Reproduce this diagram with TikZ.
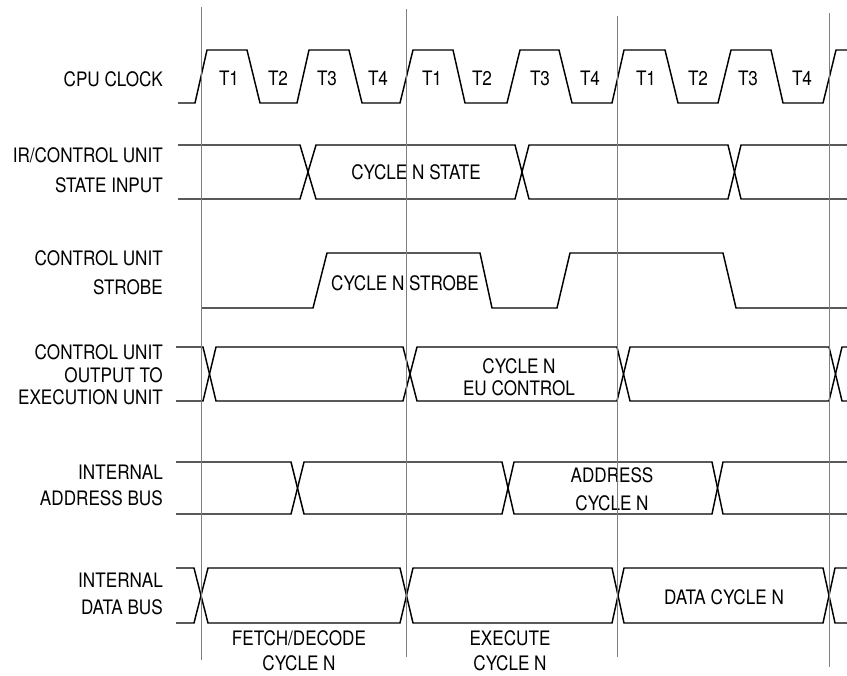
\documentclass[tikz,border=0pt]{standalone}
\usepackage{fontspec}
\setmainfont{TeX Gyre Heros}[FakeStretch=0.86]
\begin{document}
\begin{tikzpicture}[x=0.03cm,y=-0.03cm,
  wave/.style={line width=1.25pt,line join=miter},
  cyclemark/.style={line width=0.6pt,color=black!50},
  lbl/.style={font=\fontsize{17}{#1}\selectfont,inner sep=0pt},
  lbl/.default=21pt]
\useasboundingbox (0,0) rectangle (847,675);
{%

% Marking signal names
\node [lbl,anchor=east] (nclk) at (163,79) {CPU CLOCK};%
\node [lbl=25.6pt,anchor=east,align=right] (nstate) at (163,170) {IR/CONTROL UNIT\\STATE INPUT};%
\node [lbl=24.8pt,anchor=east,align=right] (nstrobe) at (163,272.5) {CONTROL UNIT\\STROBE};%
\node [lbl=19.2pt,anchor=east,align=right] (neu) at (163,375) {CONTROL UNIT\\OUTPUT TO\ \\EXECUTION UNIT};%
\node [lbl=22.2pt,anchor=east,align=right] (nabus) at (163,485) {INTERNAL\\ADDRESS BUS};%
\node [lbl=23pt,anchor=east,align=right] (ndbus) at (163,593.5) {INTERNAL\\DATA BUS};%

% Drawing CPU clock
\draw [wave] (178,103) -- (195,103) -- (207,50) -- (247,50) -- (260,103) -- (297,103) -- (309,50) -- (349,50) -- (362,103) -- (400,103) -- (413,50) -- (453,50) -- (465,103) -- (507,103) -- (520,50) -- (559,50) -- (572,103) -- (612,103) -- (624,50) -- (665,50) -- (678,103) -- (718,103) -- (731,50) -- (771,50) -- (783,103) -- (823,103) -- (836,50) -- (847,50);%

% Marking clock states
\node [lbl] (ta1) at (229,78) {T1};%
\node [lbl] (ta2) at (278,78) {T2};%
\node [lbl] (ta3) at (327,78) {T3};%
\node [lbl] (ta4) at (378,78) {T4};%
\node [lbl] (tb1) at (432,78) {T1};%
\node [lbl] (tb2) at (482,78) {T2};%
\node [lbl] (tb3) at (540,78) {T3};%
\node [lbl] (tb4) at (590,78) {T4};%
\node [lbl] (tc1) at (646,78) {T1};%
\node [lbl] (tc2) at (698,78) {T2};%
\node [lbl] (tc3) at (748,78) {T3};%
\node [lbl] (tc4) at (802,78) {T4};%

% Drawing IR/control unit state input
\draw [wave] (178,145) -- (300,145) -- (316,199) -- (515,199) -- (529,145) -- (728,145) -- (741,199) -- (847,199);%
\draw [wave] (178,199) -- (300,199) -- (316,145) -- (515,145) -- (529,199) -- (728,199) -- (741,145) -- (847,145);%
\node [lbl] (cstate) at (416,172) {CYCLE N STATE};%

% Drawing control unit strobe
\draw [wave] (201,308) -- (313,308) -- (327,253) -- (480,253) -- (492,308) -- (557,308) -- (570,253) -- (723,253) -- (736,308) -- (847,308);%
\node [lbl] (cstrobe) at (405,283) {CYCLE N STROBE};%

% Drawing control unit output to execution unit
\draw [wave] (176,347) -- (203,347) -- (216,401) -- (403,401) -- (417,347) -- (617,347) -- (630,401) -- (829,401) -- (842,347) -- (847,347);%
\draw [wave] (176,401) -- (203,401) -- (216,347) -- (403,347) -- (417,401) -- (617,401) -- (630,347) -- (829,347) -- (842,401) -- (847,401);%
\node [lbl=18.8pt,align=center] (ceu) at (519,377) {CYCLE N\\EU CONTROL};%

% Drawing internal address bus
\draw [wave] (176,462) -- (291,462) -- (304,514) -- (502,514) -- (514,462) -- (712,462) -- (723,514) -- (847,514);%
\draw [wave] (176,514) -- (291,514) -- (304,462) -- (502,462) -- (514,514) -- (712,514) -- (723,462) -- (847,462);%
\node [lbl=23.9pt,align=center] (caddr) at (612,489) {ADDRESS\\CYCLE N};%

% Drawing internal data bus
\draw [wave] (176,568) -- (194,568) -- (208,623) -- (400,623) -- (413,568) -- (612,568) -- (624,623) -- (823,623) -- (835,568) -- (847,568);%
\draw [wave] (176,623) -- (194,623) -- (208,568) -- (400,568) -- (413,623) -- (612,623) -- (624,568) -- (823,568) -- (835,623) -- (847,623);%
\node [lbl] (cdata) at (724,597) {DATA CYCLE N};%

% Marking machine cycles
\node [lbl=21.3pt,align=center] (cfetch) at (299,650.5) {FETCH/DECODE\\CYCLE N};%
\node [lbl=21.3pt,align=center] (cexec) at (510,650.5) {EXECUTE\\CYCLE N};%

% Drawing cycle boundaries
\draw [cyclemark] (201,7) -- (201,660);%
\draw [cyclemark] (406,9) -- (406,657);%
\draw [cyclemark] (617,16) -- (617,657);%
\draw [cyclemark] (829,13) -- (829,667);%
}
\end{tikzpicture}
\end{document}
